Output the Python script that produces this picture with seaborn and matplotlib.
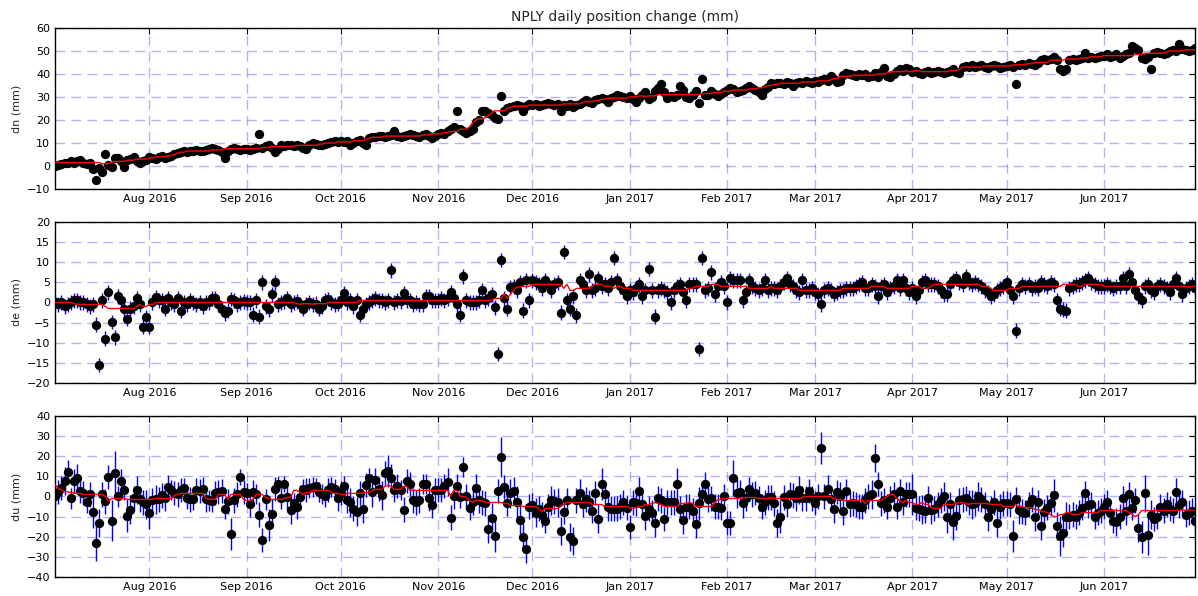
import pandas as pd
import seaborn as sns
import matplotlib
matplotlib.use('Agg')
import matplotlib.pyplot as plt
import matplotlib.dates as mdates

# daily solutions, one line per month, Jul 2016 (from the 2nd) to Jun 2017
start_date = '2016-07-02'

dn = [
    0, 0.5, 1, 1.5, 1.5, 2, 1.5, 2, 2.5, 1.5, 1, 1.5, -1.5, -6, -1, -2.5, 5, 0.5, -0.5, 3.5, 3.5, 2, -0.5, 2.5, 3, 4, 2, 1.5, 2, 2.5,
    4, 3.5, 3, 4, 4.5, 3.5, 4, 4.5, 5, 5.5, 6, 6.5, 6, 6.5, 6.5, 7, 6.5, 6.5, 7, 7.5, 8, 7.5, 7, 6, 3.5, 6.5, 7.5, 8, 7.5, 7, 7.5,
    7.5, 7, 7.5, 8, 14, 8, 8.5, 9, 8, 6, 7.5, 9, 8.5, 9, 9, 8.5, 9, 8.5, 8, 7.5, 9, 10, 9.5, 9, 9, 9.5, 10, 10.5, 11, 10.5,
    11, 10.5, 11, 9, 10, 11, 11.5, 10, 9, 12, 12.5, 12.5, 13, 13, 12.5, 13, 13.5, 15, 13, 12.5, 13, 13.5, 14, 13.5, 13, 12.5, 13.5, 14, 13, 12, 13,
    14, 14.5, 14, 15, 16, 17, 24, 16, 15, 14.5, 15, 16, 19, 20, 24, 24, 23, 22, 21, 20.5, 30.5, 24, 25, 25.5, 26, 26.5, 26, 24, 26, 27,
    26.5, 27, 26, 26.5, 27, 27.5, 27, 26.5, 27, 24, 26.5, 26, 27, 25.5, 26.5, 27, 28, 28.5, 28, 27.5, 28.5, 29, 29.5, 29, 28, 29.5, 30, 31, 30.5, 30, 29.5,
    30.5, 29, 28, 29.5, 31, 32, 29, 30, 32.5, 34, 35.5, 32, 29.5, 30.5, 30, 31, 35, 33, 30, 29.5, 31, 32.5, 27.5, 38, 31, 31, 32.5, 31.5, 30.5, 31.5, 32,
    33, 34, 33.5, 32, 32.5, 33, 34, 35, 34, 33, 32, 31, 33.5, 34.5, 36, 35.5, 36, 36, 35.5, 36.5, 36, 35, 36, 36.5, 36, 37, 36.5, 36,
    37, 36.5, 37.5, 38, 37, 39, 38, 36.5, 37, 39.5, 40.5, 40, 39.5, 39, 40, 39.5, 40, 38.5, 39, 40.5, 38.5, 41, 42.5, 39, 38.5, 40, 41.5, 42, 41.5, 42.5, 42,
    41, 41.5, 40.5, 40, 41, 41.5, 40.5, 41, 41.5, 41, 40.5, 41, 41.5, 42, 41, 40.5, 43, 43.5, 43, 44, 43, 43.5, 44, 43, 42.5, 43.5, 44, 43.5, 42.5, 43,
    43.5, 44, 43, 35.5, 44, 44.5, 44, 45, 44.5, 44, 45, 46, 46.5, 46, 46.5, 47.5, 46, 42, 41.5, 42, 46, 46.5, 46, 46.5, 47, 49, 47, 47.5, 47, 47.5, 48,
    48, 48.5, 47.5, 48, 48.5, 47, 48, 48.5, 49, 52, 51.5, 50.5, 47, 46.5, 47.5, 42, 49, 49.5, 49, 48.5, 49, 50, 50.5, 50, 53, 51, 50.5, 50, 50.5, 51.5,
]

de = [
    0, -0.5, 0, -1, -0.5, 0, 0.5, 0.5, 0, 0, -0.5, -1, -0.5, -5.5, -15.5, 0.5, -9, 2.5, -4.8, -8.7, 1.5, 0.5, -1.5, -4, -1.5, -1, 1, -0.5, -6, -3.7,
    -6, 0, 1.3, 0.5, 0.5, -1.5, 1, 0, -0.5, 1, -2, 0, -0.5, 0.5, 0, -0.5, 0, -1, 0, 0, 1, 1, -0.5, -1.5, -2.7, -2, 0.8, 0.5, -0.5, 0, 0.3,
    0, 0, -3, 0.5, -3.5, 5, -1, -1.7, 2, 5, -0.5, 0, 0.3, 1, -0.5, 0, 0.3, -0.5, -1.5, -0.5, 0, -0.5, -0.3, -1.5, -1, 0.5, 0.8, 0, -0.5, -0.3,
    0.5, 2.3, 0, 0.5, -1, 0.5, -3, -1.5, -0.5, 0, 0.5, 1, 0.5, 0.5, 0, 0.5, 8, 0, 0.5, 0.3, 2.4, 0.5, 0.5, -0.5, 0, -0.5, -0.5, 1.5, 1.5, 0.5, 0.5,
    0.5, 1, 0.5, 1, 2.5, 1, -0.5, -3, 6.5, 0.5, 0, 0, 0, 0.5, 3, 0.5, 1, 2, -1.2, -12.8, 10.5, 1, -1.5, 3.8, 4, 3, 5, -2, 5.5, 0.5,
    5.5, 5, 4.5, 3.5, 5.5, 4.5, 3, 4.5, 5, -2.5, 12.5, 0.5, -1.5, 1.5, -3.2, 5.5, 4.5, 3, 7, 3, 3.5, 6, 4, 4.5, 3.5, 5, 11, 5.5, 4, 3, 1.5,
    3, 2.5, 3.5, 4.5, 1.5, 3, 8.3, 3, -3.5, 3, 3.5, 3, 2.5, 0, 3, 4, 4.5, 2.5, 0.5, 4.5, 4.5, 4.5, -11.5, 11, 3, 3.5, 7.5, 2, 4, 5, 4,
    0, 6, 5.5, 5.5, 5.5, 0.5, 2.5, 5.5, 4, 3.5, 3, 3.5, 5.5, 3, 3.5, 3.5, 3, 4, 5, 6, 4.5, 4, 3, 2.5, 5.5, 3, 3, 3.5,
    2.5, 2, -0.5, 3, 3.5, 3, 2, 2.5, 3, 3, 3.5, 3.5, 3.5, 4, 4.5, 5, 3.5, 3.5, 4.5, 4, 1.5, 4, 4.5, 2.5, 3.5, 4, 5.5, 3.5, 5.5, 3.5, 2.5,
    3.5, 1.5, 3, 5, 5.5, 4.5, 4.5, 4.5, 4, 3, 2, 2, 4.5, 5.5, 6, 5, 4.5, 6.5, 5, 4.5, 5, 4.5, 4, 3, 2.5, 1.5, 2, 3, 3.5, 4,
    5, 3, 1.5, -7, 3.5, 4.5, 4, 4.5, 3.5, 4, 3.5, 5, 4.5, 4, 5, 4.5, 0.5, -1.5, -1.8, -2, 3.5, 4, 4.5, 4.5, 5, 5.5, 6, 5, 4.5, 4, 4,
    4, 4.5, 4, 3.5, 4, 4, 6, 4, 7, 5, 3, 1.5, 0.5, 4, 4.5, 3, 2.5, 4, 4.5, 4, 3.5, 2.5, 4.5, 6, 4, 2, 3.5, 4, 4.5, 3.5,
]

du = [
    0, 2, 4, 7.5, 12, -1, 7.5, 9, 2.5, 1.5, -3, 1, -7.5, -23, -13, 1, -2.5, 9.5, -12, 11.5, 0, 7.5, 3, -9.5, -6.5, -1, 3, -1.5, -3, -4,
    -8, -2, -1.5, -1.5, 0.5, -1, 4.5, 3, 1.5, 1, 3, 4, -1, -1.5, -1.5, 3, 2.5, 3.5, -1.5, -2, -2.5, 1.5, 2, 2.5, -6, -2.5, -18.5, -2, 1, 9.5, 2,
    1.5, -4, 2, 1, -9, -21.5, -1.5, -14, -8.5, 3.5, 6, -1, 6, -0.5, -6.5, -3.5, -5, -0.5, 3.5, 3, 4, 4.5, 5, 2, 1, 0, 3, 4.5, 3.5, -1,
    1.5, 5, -2, -3, -6, -7.5, 1.5, -6, 5.5, 9, 2, 8, 3.5, 0.5, 11.5, 12.5, 9, 3, 5, 3, -6.5, 7.5, 6, -2, -3, -2, 6, 6, -1, -4.5, 3,
    3, 3, 5, 7, -10.5, 0, 5, -0.5, 14.5, 0, -5.5, -3, 4, -2, -3, -3.5, -16, -10.5, -19.5, 2.5, 19.5, 4.5, -3.5, 1.5, 2.5, -3, -11.5, -20, -26, -5,
    -4.5, -8, -6, -9, -12, -5, -2, -2.5, -3, -17, -7.5, -2, -20, -22, -2, 1.5, -4, -1.5, -3, -7, 1.5, -11, 6, 1, -5, -6, -6, -6, -5, -3, -5.5,
    -15, -3, -3.5, 2.5, -4, -9.5, -6, -8, -13, -1, -2, -11, -3, -3, -3, 6, -6, -11.5, -5, -5, -7, -13.5, -3.5, 1, 6, -1.5, -1, -5, -5, -5.5, 0,
    -13, -13, 9, 1.5, 2, -3.5, -1, 3.5, 1, 1.5, -1, -5, -3, -0.5, -0.5, -3.5, -13, -10, -0.5, -4, 1, 0.5, -1, 3, -1, -1, 2.5, -1,
    -3.3, 0, 24, 0, 3.5, -1.5, -6, 2, 0, -7, 2.5, -4, -3.5, -4, -5, -5, -2, 0, 1, 19, 6, -3.5, -2, -5, -1, 1, -5, 2.5, -3, 1, 1,
    1, -5.5, -6, -6.5, -7, -1, -6.5, -6, -4, -2, 0, -10, -4, -12.5, -9.5, -2, -1.5, -1, -3, -4, -3.5, 0, -1.5, -4, -10, -6, -3, -13, -5, -3.5,
    -3.5, -4, -19.5, -1.5, -6.5, -7.5, -8, -4, -1.5, -10, -3, -14.5, -7.5, -5.5, -3.5, 0.5, -14.5, -19.5, -18, -10, -10, -9, -10, -8, -5.5, 1.5, -4.5, -4, -10, -8, -7,
    -5, -3, -8, -12, -12.5, -10, -1, -7, 1, -5.5, -2, -15.5, -20, 1.5, -19, -9, -11, -10, -5, -7, -4, -6, -7, 2, -4.5, -3, -9, -8, -7, -12,
]

# one-sigma error bars (mm)
dn_err = 1.5
de_err = 1.8
du_err = [
    5, 6, 6, 7, 6, 5, 6, 7, 6, 6, 5, 6, 8, 9, 7, 6, 6, 6, 10, 11, 5, 6, 5, 8, 7, 6, 7, 6, 6, 7,
    8, 6, 7, 6, 6, 6, 6, 5, 6, 6, 6, 5, 5, 6, 5, 6, 6, 6, 6, 5, 5, 6, 6, 6, 5, 6, 8, 6, 6, 4, 6,
    5, 6, 6, 5, 6, 6, 5, 8, 7, 6, 4, 5, 4, 6, 7, 5, 6, 6, 5, 6, 5, 5, 4, 5, 5, 5, 6, 5, 5, 6,
    6, 5, 6, 7, 6, 7, 6, 7, 6, 5, 7, 6, 6, 7, 6, 8, 7, 6, 6, 5, 6, 6, 6, 6, 6, 6, 5, 5, 6, 6, 6,
    6, 6, 6, 7, 6, 6, 6, 5, 5, 6, 6, 6, 7, 6, 6, 6, 7, 7, 8, 6, 10, 6, 6, 7, 7, 8, 7, 7, 7, 6,
    6, 7, 6, 6, 6, 6, 7, 6, 7, 7, 6, 6, 7, 7, 6, 7, 6, 6, 6, 6, 6, 7, 8, 6, 7, 6, 6, 6, 6, 6, 6,
    6, 6, 6, 7, 6, 7, 6, 6, 7, 6, 6, 6, 6, 6, 6, 8, 6, 7, 6, 6, 6, 7, 8, 6, 6, 6, 6, 6, 6, 6, 6,
    6, 6, 9, 7, 6, 7, 6, 6, 6, 6, 6, 6, 6, 6, 6, 6, 7, 8, 6, 6, 6, 6, 6, 7, 6, 6, 6, 6,
    6, 6, 8, 6, 7, 6, 7, 6, 7, 7, 6, 6, 6, 6, 6, 6, 6, 6, 7, 7, 6, 6, 6, 6, 6, 6, 6, 6, 6, 6, 6,
    10, 6, 6, 7, 6, 6, 7, 6, 6, 6, 7, 8, 6, 9, 7, 6, 6, 6, 6, 7, 6, 7, 6, 6, 7, 6, 6, 7, 6, 6,
    6, 6, 8, 6, 7, 6, 6, 6, 6, 7, 6, 7, 6, 6, 6, 8, 7, 10, 7, 7, 6, 6, 6, 6, 6, 6, 6, 6, 6, 6, 6,
    6, 6, 6, 6, 7, 6, 6, 7, 6, 6, 6, 7, 8, 9, 10, 7, 6, 6, 6, 6, 6, 6, 6, 7, 6, 6, 6, 6, 6, 6,
]

ylabels = ['dn (mm)', 'de (mm)', 'du (mm)']
yticks = [range(-10, 61, 10), range(-20, 21, 5), range(-40, 41, 10)]
ylims = [(-10, 60), (-20, 20), (-40, 40)]

sns.set_style('white')
plt.rcParams['font.family'] = ['DejaVu Sans']

fig, axes = plt.subplots(3, 1, figsize=(11.98, 5.96), dpi=100)
fig.subplots_adjust(left=0.046, right=0.9975, top=0.953, bottom=0.032, hspace=0.205)

for ax, vals, err, lab, yt, yl in zip(axes, [dn, de, du], [dn_err, de_err, du_err],
                                     ylabels, yticks, ylims):
    dates = pd.date_range(start_date, periods=len(vals), freq='D')
    s = pd.Series(vals, index=dates)
    trend = s.rolling(15, center=True, min_periods=1).median()

    ax.errorbar(dates, vals, yerr=err, fmt='none', ecolor='b', elinewidth=1, capsize=0, zorder=2)
    sns.scatterplot(x=dates, y=vals, color='k', s=45, linewidth=0, ax=ax, zorder=3)
    sns.lineplot(x=dates, y=trend.values, color='r', lw=1, estimator=None, ax=ax, zorder=4)

    ax.set_xlim(dates[0], dates[-1])
    ax.set_ylim(*yl)
    ax.set_yticks(list(yt))
    ax.set_xlabel('')
    ax.set_ylabel(lab, fontsize=8)
    ax.xaxis.set_major_locator(mdates.MonthLocator())
    ax.xaxis.set_major_formatter(mdates.DateFormatter('%b %Y'))
    ax.tick_params(direction='in', top=True, right=True, length=4, labelsize=8, colors='k')
    ax.grid(True, color='b', alpha=0.3, lw=1, linestyle=(0, (7, 4.5)))
    for sp in ax.spines.values():
        sp.set_color('k')
        sp.set_linewidth(1)

axes[0].set_title('NPLY daily position change (mm)', fontsize=10, pad=5)

fig.savefig('out.png', dpi=100)
